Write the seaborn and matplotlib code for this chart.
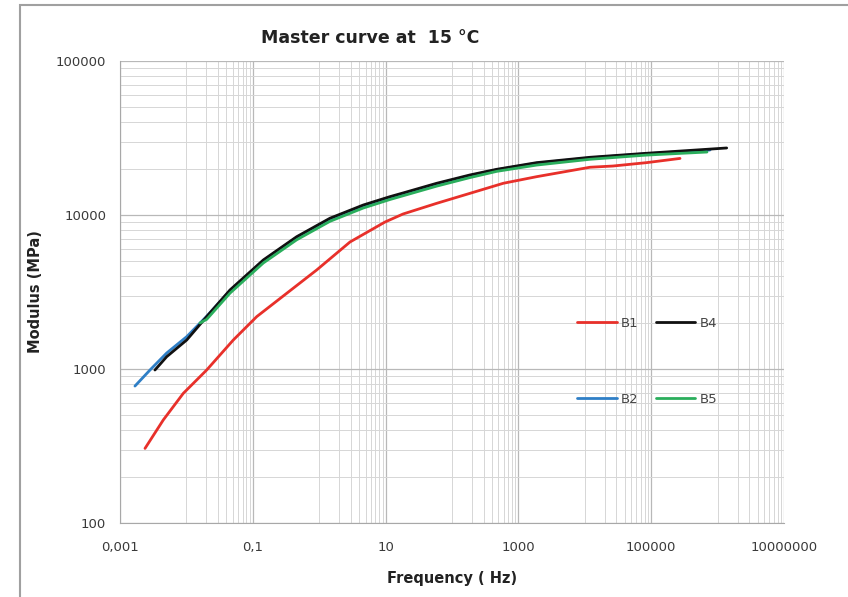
import numpy as np
import pandas as pd
import seaborn as sns
from matplotlib import pyplot as plt
from matplotlib.ticker import FixedLocator, NullFormatter
from matplotlib.patches import Rectangle

## values (frequency in Hz, modulus in MPa)
b1_freq = [0.00238, 0.00449, 0.00898, 0.0202, 0.0508, 0.1146, 0.324, 0.917, 2.91, 9.8,
           18.3, 58.9, 186.7, 593, 1888, 11970, 26600, 85500, 271600]
b1_mod = [305, 467, 695, 985, 1542, 2188, 3101, 4396, 6680, 9004,
          10150, 11910, 13830, 16070, 17740, 20420, 20800, 21880, 23300]

b2_freq = [0.00168, 0.00283, 0.00505, 0.0101, 0.0202, 0.0454, 0.144, 0.458, 1.454, 4.61,
           11.6, 58.9, 186.7, 471, 1888, 11970, 85500, 769000]
b2_mod = [775, 985, 1270, 1621, 2200, 3230, 5050, 7150, 9400, 11450,
          12950, 15900, 18000, 19650, 21700, 23500, 25000, 26430]

b4_freq = [0.00336, 0.00505, 0.0101, 0.0202, 0.0454, 0.144, 0.458, 1.454, 4.61, 11.6,
           18.3, 58.9, 186.7, 471, 1888, 11970, 85500, 685000, 1370000]
b4_mod = [985, 1202, 1542, 2188, 3260, 5105, 7228, 9530, 11610, 13150,
          13900, 16070, 18200, 19800, 21880, 23700, 25170, 26700, 27240]

b5_freq = [0.016, 0.0202, 0.0454, 0.144, 0.458, 1.454, 4.61, 11.6, 58.9, 186.7,
           471, 1888, 11970, 85500, 692000]
b5_mod = [1990, 2100, 3110, 4880, 6900, 9100, 11100, 12600, 15400, 17500,
          19200, 21100, 23000, 24500, 25640]

x_ticks = [0.001, 0.1, 10, 1000, 100000, 10000000]
x_labels = ['0,001', '0,1', '10', '1000', '100000', '10000000']
y_ticks = [100, 1000, 10000, 100000]
y_labels = ['100', '1000', '10000', '100000']

sns.set_style("white")
plt.rcParams['font.family'] = ['DejaVu Sans']

fig = plt.figure(figsize=(8.48, 5.97), dpi=100)
ax = fig.add_axes([120/848, 1-523/597, 664/848, 462/597])

## chart area border like the excel frame (runs off the right and bottom edge)
fig.patches.append(Rectangle((20/848, -0.05), 0.99, 1-5/597+0.05, transform=fig.transFigure,
                             fill=False, edgecolor='#a0a0a0', lw=1.5))

series = [('B1', b1_freq, b1_mod, '#e8302a'),
          ('B2', b2_freq, b2_mod, '#2f7fc6'),
          ('B4', b4_freq, b4_mod, '#111111'),
          ('B5', b5_freq, b5_mod, '#2aae5c')]
for name, f, m, c in series:
    df = pd.DataFrame({'freq': f, 'mod': m})
    sns.lineplot(data=df, x='freq', y='mod', ax=ax, color=c, lw=2.0, label=name, sort=False)

ax.set_xscale('log')
ax.set_yscale('log')
ax.set_xlim(0.001, 10000000)
ax.set_ylim(100, 100000)

ax.xaxis.set_major_locator(FixedLocator(x_ticks))
ax.set_xticklabels(x_labels)
minor_x = [b * 10 * k for b in x_ticks[:-1] for k in range(1, 10)]
ax.xaxis.set_minor_locator(FixedLocator(minor_x))
ax.xaxis.set_minor_formatter(NullFormatter())
ax.yaxis.set_major_locator(FixedLocator(y_ticks))
ax.set_yticklabels(y_labels)
minor_y = [b * k for b in y_ticks[:-1] for k in range(2, 10)]
ax.yaxis.set_minor_locator(FixedLocator(minor_y))
ax.yaxis.set_minor_formatter(NullFormatter())

ax.grid(which='major', color='#b8b8b8', lw=0.9)
ax.grid(which='minor', color='#d6d6d6', lw=0.7)
ax.set_axisbelow(True)
for s in ['top', 'right']:
    ax.spines[s].set_visible(False)
for s in ['left', 'bottom']:
    ax.spines[s].set_color('#a8a8a8')
ax.tick_params(which='major', length=4, color='#a8a8a8', labelsize=9.5, labelcolor='#3a3a3a', pad=6)
ax.tick_params(axis='x', which='major', pad=9)
ax.tick_params(which='minor', length=0)

ax.set_xlabel('Frequency ( Hz)', fontsize=10.5, fontweight='bold', color='#222222', labelpad=12)
ax.set_ylabel('Modulus (MPa)', fontsize=10.5, fontweight='bold', color='#222222', labelpad=9)
fig.text(370/848, 1-38/597, 'Master curve at  15 °C', ha='center', va='center',
         fontsize=12.5, fontweight='bold', color='#222222')

ax.legend(loc='upper left', bbox_to_anchor=(0.679, 0.461), ncol=2, frameon=False,
          borderpad=0, handlelength=3.0, handletextpad=0.3, columnspacing=1.3,
          labelspacing=4.8, fontsize=9.5, labelcolor='#444444')

plt.savefig('out.png', dpi=100)
